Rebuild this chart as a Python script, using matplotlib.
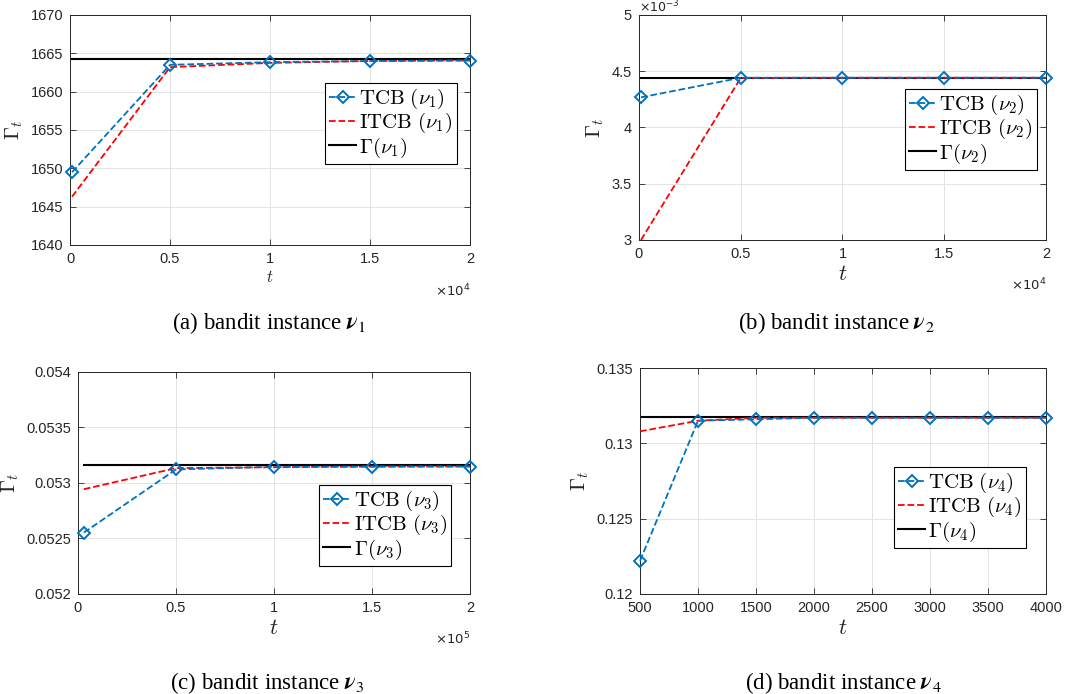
import numpy as np
import matplotlib
matplotlib.use('Agg')
import matplotlib.pyplot as plt
from matplotlib.ticker import FuncFormatter, FixedLocator

plt.rcParams['font.family'] = ['Liberation Sans', 'DejaVu Sans']
plt.rcParams['mathtext.fontset'] = 'cm'

# ---- data ----
t_a = [100, 5000, 10000, 15000, 20000]
tcb_a = [1649.5, 1663.5, 1663.85, 1664.0, 1664.05]
itcb_a = [1646.3, 1663.2, 1663.75, 1664.0, 1664.1]
gam_a = 1664.27

t_b = [100, 5000, 10000, 15000, 20000]
tcb_b = [4.268e-3, 4.442e-3, 4.442e-3, 4.442e-3, 4.442e-3]
itcb_b = [3.0e-3, 4.44e-3, 4.442e-3, 4.442e-3, 4.442e-3]
gam_b = 4.443e-3

t_c = [3000, 50000, 100000, 150000, 200000]
tcb_c = [0.052553, 0.053122, 0.053146, 0.053148, 0.053148]
itcb_c = [0.052944, 0.053134, 0.053142, 0.053148, 0.053150]
gam_c = 0.053161

t_d = [500, 1000, 1500, 2000, 2500, 3000, 3500, 4000]
tcb_d = [0.1222, 0.1315, 0.1316, 0.1317, 0.1317, 0.1317, 0.1317, 0.1317]
itcb_d = [0.1308, 0.1315, 0.1317, 0.1317, 0.1317, 0.1317, 0.1317, 0.1317]
gam_d = 0.13176

panels = [
    dict(t=t_a, tcb=tcb_a, itcb=itcb_a, gam=gam_a, k=1, xlim=(0, 20000),
         xticks=[0, 5000, 10000, 15000, 20000], xsc=1e4, xoff=r'$\times10^{4}$',
         ylim=(1640, 1670), yticks=[1640, 1645, 1650, 1655, 1660, 1665, 1670], ysc=1, yoff=None,
         pos=[0.0654, 0.647, 0.3735, 0.3314], leg=(0.9675, 0.704), xls=12,
         cap='(a) bandit instance ', capxy=(0.251, 0.535)),
    dict(t=t_b, tcb=tcb_b, itcb=itcb_b, gam=gam_b, k=2, xlim=(0, 20000),
         xticks=[0, 5000, 10000, 15000, 20000], xsc=1e4, xoff=r'$\times10^{4}$',
         ylim=(3e-3, 5e-3), yticks=[3e-3, 3.5e-3, 4e-3, 4.5e-3, 5e-3], ysc=1e-3, yoff=r'$\times10^{-3}$',
         pos=[0.5966, 0.6542, 0.380, 0.3242], leg=(0.978, 0.671), xls=16,
         cap='(b) bandit instance ', capxy=(0.781, 0.535)),
    dict(t=t_c, tcb=tcb_c, itcb=itcb_c, gam=gam_c, k=3, xlim=(0, 200000),
         xticks=[0, 50000, 100000, 150000, 200000], xsc=1e5, xoff=r'$\times10^{5}$',
         ylim=(0.052, 0.054), yticks=[0.052, 0.0525, 0.053, 0.0535, 0.054], ysc=1, yoff=None,
         pos=[0.0728, 0.1441, 0.366, 0.3199], leg=(0.952, 0.491), xls=16,
         cap='(c) bandit instance ', capxy=(0.250, 0.016)),
    dict(t=t_d, tcb=tcb_d, itcb=itcb_d, gam=gam_d, k=4, xlim=(500, 4000),
         xticks=[500, 1000, 1500, 2000, 2500, 3000, 3500, 4000], xsc=1, xoff=None,
         ylim=(0.12, 0.135), yticks=[0.12, 0.125, 0.13, 0.135], ysc=1, yoff=None,
         pos=[0.5976, 0.1441, 0.379, 0.3256], leg=(0.951, 0.562), xls=16,
         cap='(d) bandit instance ', capxy=(0.787, 0.016)),
]

fig = plt.figure(figsize=(10.71, 6.94), dpi=100)
axc = '#262626'

for p in panels:
    ax = fig.add_axes(p['pos'])
    k = p['k']
    ax.plot(p['t'], p['tcb'], '--', color='#0072BD', lw=1.3, marker='D', ms=6.5,
            mfc='none', mew=1.4, clip_on=False, zorder=4, label=r'$\mathrm{TCB}\ (\nu_%d)$' % k)
    ax.plot(p['t'], p['itcb'], '--', color='#FF0000', lw=1.3, zorder=3,
            label=r'$\mathrm{ITCB}\ (\nu_%d)$' % k)
    ax.plot(p['t'][:1] + p['t'][-1:], [p['gam'], p['gam']], '-', color='black', lw=1.5,
            zorder=2, label=r'$\Gamma(\nu_%d)$' % k)
    ax.set_xlim(*p['xlim'])
    ax.set_ylim(*p['ylim'])
    ax.xaxis.set_major_locator(FixedLocator(p['xticks']))
    ax.yaxis.set_major_locator(FixedLocator(p['yticks']))
    xs, ys = p['xsc'], p['ysc']
    ax.xaxis.set_major_formatter(FuncFormatter(lambda v, pos, s=xs: '%g' % round(v / s, 6)))
    ax.yaxis.set_major_formatter(FuncFormatter(lambda v, pos, s=ys: '%g' % round(v / s, 6)))
    if p['xoff']:
        ax.text(1.0, -0.165, p['xoff'], transform=ax.transAxes, ha='right', va='top',
                fontsize=9.5, color=axc, math_fontfamily='dejavusans')
    if p['yoff']:
        ax.text(0.0, 1.0, p['yoff'], transform=ax.transAxes, ha='left', va='bottom',
                fontsize=9, color=axc, math_fontfamily='dejavusans')
    ax.grid(True, color='#e3e3e3', lw=0.7)
    ax.set_axisbelow(True)
    ax.tick_params(direction='in', top=True, right=True, length=4, width=0.6,
                   labelsize=10.5, colors=axc, pad=5)
    for s in ax.spines.values():
        s.set_color(axc)
        s.set_linewidth(0.7)
    ax.set_xlabel(r'$t$', fontsize=p['xls'], color=axc, labelpad=2)
    ax.set_ylabel(r'$\Gamma_t$', fontsize=15, color=axc, labelpad=4)
    leg = ax.legend(loc='upper right', bbox_to_anchor=p['leg'], borderaxespad=0,
                    fontsize=15, fancybox=False, framealpha=1, edgecolor='black',
                    handlelength=1.3, handletextpad=0.15, labelspacing=0.0,
                    borderpad=0.2)
    leg.get_frame().set_linewidth(0.8)
    fig.text(p['capxy'][0], p['capxy'][1], p['cap'] + r'$\boldsymbol{\nu}_%d$' % k,
             ha='center', va='center', fontsize=16.5, family='Liberation Serif',
             math_fontfamily='stix')

fig.savefig('out.png', dpi=100)
